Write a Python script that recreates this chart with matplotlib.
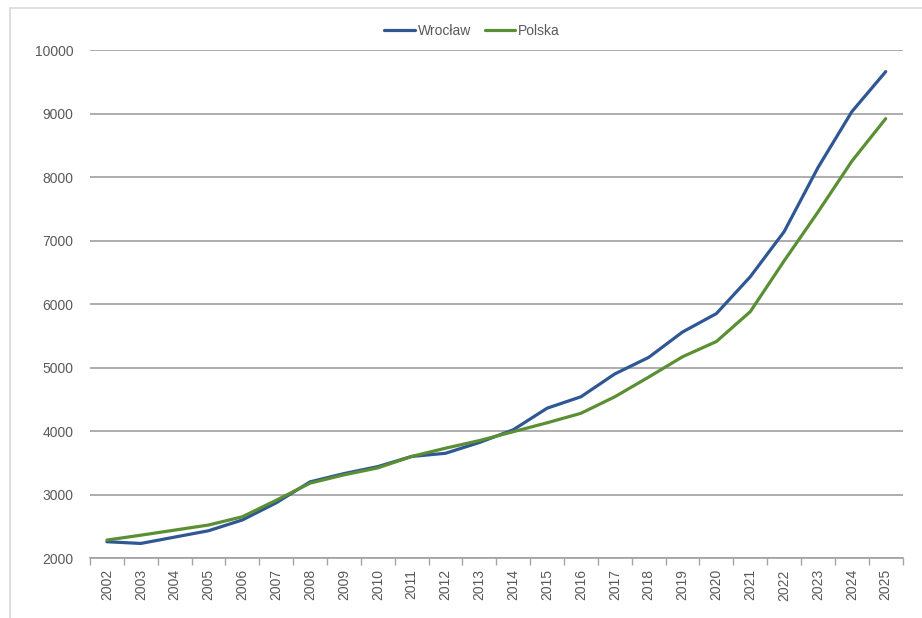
import matplotlib.pyplot as plt
from matplotlib.patches import Rectangle

plt.rcParams['font.family'] = ['Liberation Sans', 'DejaVu Sans']

# lata i wartosci
lata = [str(r) for r in range(2002, 2026)]
wroclaw = [2257, 2230, 2330, 2430, 2600, 2870, 3200, 3330, 3440, 3600, 3650, 3820,
           4020, 4360, 4540, 4900, 5160, 5560, 5850, 6430, 7140, 8150, 9030, 9660]
polska = [2283, 2360, 2440, 2520, 2650, 2910, 3180, 3310, 3420, 3600, 3730, 3850,
          3990, 4130, 4280, 4540, 4850, 5170, 5410, 5880, 6680, 7450, 8250, 8920]

szary = '#595959'

fig = plt.figure(figsize=(9.22, 6.18), dpi=100)
ax = fig.add_axes([0.0976, 0.097, 0.8814, 0.822])

x = list(range(len(lata)))
ax.plot(x, wroclaw, color='#2F5794', linewidth=2.3, label='Wrocław', solid_capstyle='round')
ax.plot(x, polska, color='#5A8F33', linewidth=2.3, label='Polska', solid_capstyle='round')

ax.set_xlim(-0.5, len(lata) - 0.5)
ax.set_ylim(2000, 10000)
ax.set_yticks(range(2000, 10001, 1000))
ax.tick_params(axis='y', length=0, labelsize=10, labelcolor=szary, pad=12)

# etykiety na srodku kategorii, kreski miedzy kategoriami
ax.set_xticks(x)
ax.set_xticklabels(lata, rotation=90)
ax.tick_params(axis='x', which='major', length=0, labelsize=10, labelcolor=szary, pad=8)
ax.set_xticks([i - 0.5 for i in range(len(lata) + 1)], minor=True)
ax.tick_params(axis='x', which='minor', length=5, color='#a6a6a6', width=1)

ax.grid(axis='y', color='#a0a0a0', linewidth=1.2)
ax.set_axisbelow(True)
for s in ['left', 'right', 'top']:
    ax.spines[s].set_visible(False)
ax.spines['bottom'].set_color('#a0a0a0')
ax.spines['bottom'].set_linewidth(1.2)

ax.legend(loc='lower center', bbox_to_anchor=(0.47, 1.0), ncol=2, frameon=False,
          fontsize=10, handlelength=2.2, columnspacing=1.0, handletextpad=0.2,
          labelcolor=szary)

# ramka wokol wykresu
fig.patches.append(Rectangle((0.011, -0.1), 1.2, 1.087, transform=fig.transFigure,
                             fill=False, edgecolor='#d9d9d9', linewidth=1.2))

fig.savefig('out.png', dpi=100)
